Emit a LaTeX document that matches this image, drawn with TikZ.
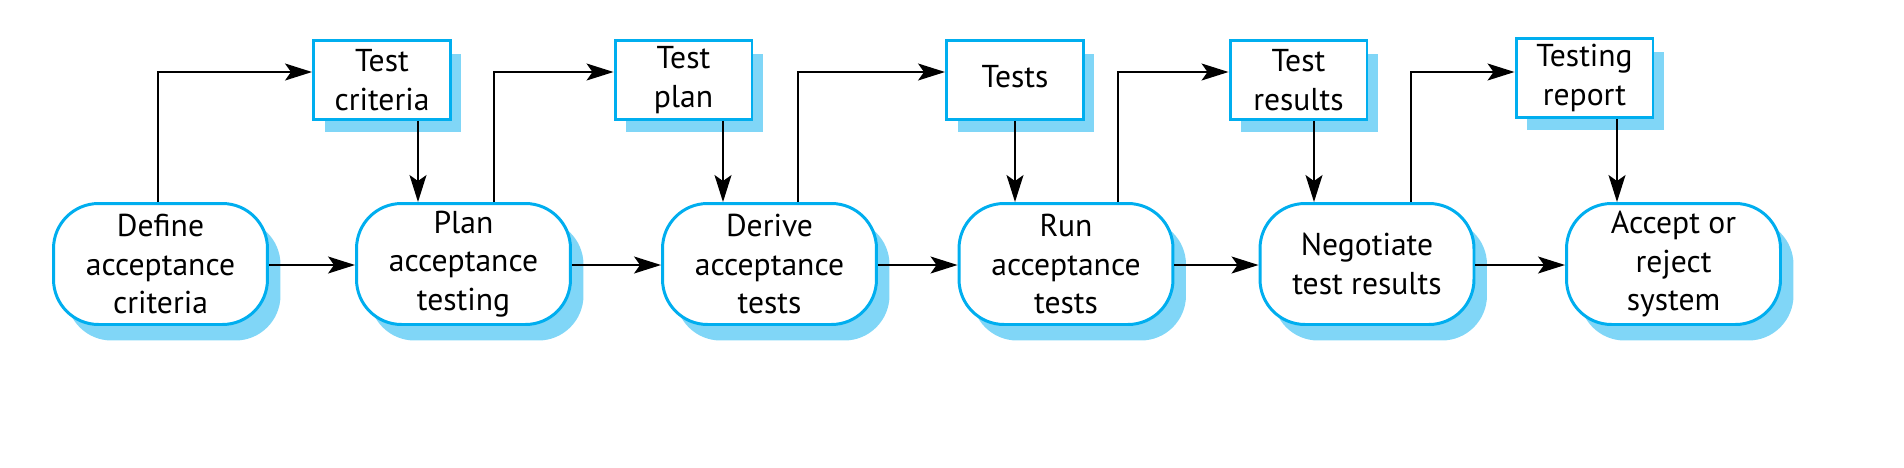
\documentclass[tikz,border=0pt]{standalone}
\usepackage{fontspec}
\setmainfont{PT Sans}
\usetikzlibrary{arrows.meta,shadows}
\definecolor{bordc}{RGB}{0,174,239}
\definecolor{shadc}{RGB}{128,214,247}
\begin{document}
\begin{tikzpicture}[x=0.02cm,y=-0.02cm,
  txt/.style={font=\fontsize{18}{22}\selectfont, align=center, inner sep=0pt},
  proc/.style={txt, draw=bordc, line width=1.7pt, fill=white, rounded corners=0.9cm,
    minimum width=4.28cm, minimum height=2.42cm,
    drop shadow={shadow xshift=0.26cm, shadow yshift=-0.32cm, fill=shadc, opacity=1}},
  doc/.style={txt, draw=bordc, line width=1.7pt, fill=white,
    minimum width=2.74cm, minimum height=1.58cm,
    drop shadow={shadow xshift=0.22cm, shadow yshift=-0.26cm, fill=shadc, opacity=1}},
  arr/.style={line width=0.85pt, -{Stealth[length=0.54cm, width=0.34cm, inset=0.12cm]}},
  ln/.style={line width=0.85pt}]
\useasboundingbox (0,0) rectangle (1904,467);
% process boxes
\node[proc] (def) at (160.5,264) {Define\\acceptance\\criteria};
\node[proc] (plan) at (463.5,264) {Plan\\acceptance\\testing};
\node[proc] (der) at (769.5,264) {Derive\\acceptance\\tests};
\node[proc] (run) at (1066,264) {Run\\acceptance\\tests};
\node[proc] (neg) at (1367,264) {Negotiate\\test results};
\node[proc] (acc) at (1673.5,264) {Accept or\\reject\\system};
% documents
\node[doc] (tc) at (382,80) {Test\\criteria};
\node[doc] (tp) at (683.5,80) {Test\\plan};
\node[doc] (ts) at (1015,80) {\raisebox{4pt}{Tests}};
\node[doc] (tr) at (1298.5,80) {Test\\results};
\node[doc] (rep) at (1584.5,78) {Testing\\report};
% reference coordinates
\coordinate (hy) at (0,72);
\coordinate (d1) at (418,0);
\coordinate (d2) at (723,0);
\coordinate (d3) at (1015,0);
\coordinate (d4) at (1314,0);
\coordinate (d5) at (1617,0);
\coordinate (u1) at (158,0);
\coordinate (u2) at (494,0);
\coordinate (u3) at (798,0);
\coordinate (u4) at (1118,0);
\coordinate (u5) at (1411,0);
\coordinate (hz) at (0,265);
% horizontal flow
\draw[arr] (def.east |- hz) -- (plan.west |- hz);
\draw[arr] (plan.east |- hz) -- (der.west |- hz);
\draw[arr] (der.east |- hz) -- (run.west |- hz);
\draw[arr] (run.east |- hz) -- (neg.west |- hz);
\draw[arr] (neg.east |- hz) -- (acc.west |- hz);
% up to documents
\draw[arr] (def.north -| u1) |- (tc.west |- hy);
\draw[arr] (plan.north -| u2) |- (tp.west |- hy);
\draw[arr] (der.north -| u3) |- (ts.west |- hy);
\draw[arr] (run.north -| u4) |- (tr.west |- hy);
\draw[arr] (neg.north -| u5) |- (rep.west |- hy);
% down from documents
\draw[arr] (tc.south -| d1) -- (plan.north -| d1);
\draw[arr] (tp.south -| d2) -- (der.north -| d2);
\draw[arr] (ts.south -| d3) -- (run.north -| d3);
\draw[arr] (tr.south -| d4) -- (neg.north -| d4);
\draw[arr] (rep.south -| d5) -- (acc.north -| d5);
\end{tikzpicture}
\end{document}
